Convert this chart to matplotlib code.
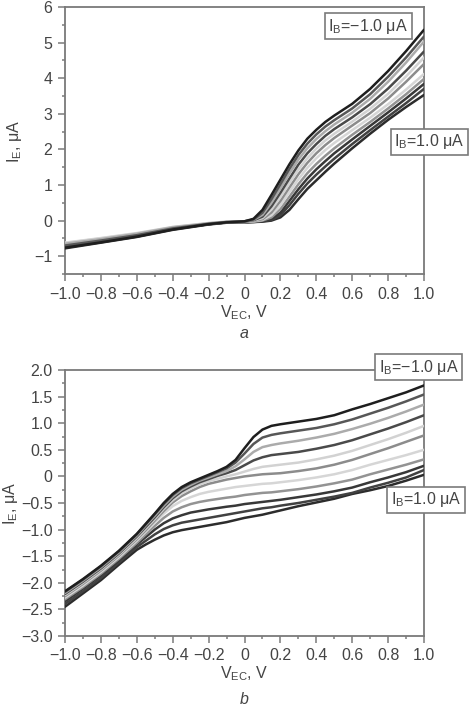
import numpy as np
import matplotlib
matplotlib.use("Agg")
import matplotlib.pyplot as plt
from matplotlib.ticker import MultipleLocator

plt.rcParams['font.family'] = ['Liberation Sans', 'DejaVu Sans']
plt.rcParams['axes.unicode_minus'] = True

# base current for each curve, top curve first
ib_values = [-1.0, -0.8, -0.6, -0.4, -0.2, 0.0, 0.2, 0.4, 0.6, 0.8, 1.0]
colors = ['#1e1e1e', '#575757', '#ababab', '#4a4a4a', '#d2d2d2', '#8c8c8c',
          '#d6d6d6', '#939393', '#383838', '#414141', '#2c2c2c']

# ---- panel a ----
xa = [-1.0, -0.8, -0.6, -0.4, -0.2, -0.1,
      0.0, 0.05, 0.1, 0.15, 0.2, 0.25, 0.3, 0.35, 0.4, 0.45, 0.5, 0.6, 0.7, 0.8, 0.9, 1.0]
ya = [
    [-0.76, -0.61, -0.45, -0.25, -0.10, -0.05,
     -0.02, 0.05, 0.30, 0.72, 1.15, 1.58, 1.97, 2.30, 2.55, 2.77, 2.95, 3.28, 3.70, 4.20, 4.76, 5.36],
    [-0.70, -0.56, -0.41, -0.22, -0.09, -0.04,
     -0.02, 0.03, 0.22, 0.60, 1.02, 1.45, 1.84, 2.16, 2.42, 2.64, 2.82, 3.15, 3.55, 4.04, 4.58, 5.17],
    [-0.65, -0.52, -0.37, -0.19, -0.08, -0.04,
     -0.02, 0.02, 0.16, 0.50, 0.90, 1.32, 1.71, 2.03, 2.29, 2.51, 2.70, 3.03, 3.42, 3.90, 4.44, 5.03],
    [-0.72, -0.58, -0.42, -0.23, -0.09, -0.05,
     -0.03, 0.01, 0.11, 0.40, 0.78, 1.18, 1.57, 1.89, 2.15, 2.38, 2.57, 2.90, 3.27, 3.71, 4.21, 4.75],
    [-0.63, -0.50, -0.36, -0.18, -0.07, -0.03,
     -0.03, 0.00, 0.07, 0.31, 0.66, 1.05, 1.43, 1.75, 2.02, 2.25, 2.44, 2.78, 3.14, 3.56, 4.05, 4.58],
    [-0.68, -0.54, -0.39, -0.21, -0.08, -0.04,
     -0.03, -0.01, 0.04, 0.23, 0.55, 0.93, 1.30, 1.62, 1.89, 2.12, 2.32, 2.67, 3.02, 3.43, 3.90, 4.40],
    [-0.62, -0.49, -0.35, -0.18, -0.07, -0.03,
     -0.04, -0.02, 0.02, 0.15, 0.43, 0.80, 1.16, 1.48, 1.75, 1.98, 2.18, 2.54, 2.89, 3.27, 3.68, 4.12],
    [-0.69, -0.55, -0.40, -0.21, -0.09, -0.05,
     -0.04, -0.03, 0.00, 0.09, 0.32, 0.67, 1.02, 1.33, 1.59, 1.82, 2.03, 2.41, 2.77, 3.15, 3.55, 3.98],
    [-0.73, -0.59, -0.43, -0.23, -0.10, -0.05,
     -0.04, -0.03, -0.01, 0.05, 0.22, 0.55, 0.88, 1.18, 1.44, 1.67, 1.89, 2.28, 2.66, 3.04, 3.43, 3.84],
    [-0.75, -0.60, -0.44, -0.24, -0.10, -0.05,
     -0.05, -0.04, -0.02, 0.02, 0.15, 0.43, 0.75, 1.04, 1.29, 1.52, 1.74, 2.15, 2.54, 2.92, 3.30, 3.70],
    [-0.78, -0.62, -0.46, -0.26, -0.11, -0.06,
     -0.05, -0.04, -0.03, 0.00, 0.09, 0.30, 0.60, 0.89, 1.13, 1.37, 1.60, 2.03, 2.44, 2.83, 3.19, 3.53],
]

# ---- panel b ----
xb = [-1.0, -0.9, -0.8, -0.7, -0.6, -0.55, -0.5, -0.45, -0.4, -0.35, -0.3, -0.25, -0.2, -0.15,
      -0.1, -0.05, 0.0, 0.05, 0.1, 0.15, 0.2, 0.3, 0.4, 0.5, 0.6, 0.7, 0.8, 0.9, 1.0]
yb = [
    [-2.16, -1.93, -1.68, -1.40, -1.08, -0.89, -0.70, -0.50, -0.33, -0.20, -0.11, -0.04, 0.03, 0.10,
     0.18, 0.31, 0.53, 0.74, 0.88, 0.95, 0.98, 1.03, 1.08, 1.15, 1.26, 1.36, 1.47, 1.58, 1.71],
    [-2.17, -1.94, -1.69, -1.41, -1.09, -0.90, -0.71, -0.52, -0.35, -0.22, -0.13, -0.06, 0.01, 0.08,
     0.15, 0.26, 0.43, 0.61, 0.73, 0.78, 0.81, 0.86, 0.91, 0.98, 1.07, 1.18, 1.29, 1.41, 1.54],
    [-2.19, -1.96, -1.71, -1.43, -1.11, -0.92, -0.74, -0.55, -0.38, -0.25, -0.16, -0.08, -0.02, 0.04,
     0.10, 0.19, 0.32, 0.46, 0.55, 0.59, 0.62, 0.67, 0.73, 0.80, 0.89, 0.99, 1.10, 1.22, 1.35],
    [-2.21, -1.98, -1.73, -1.45, -1.13, -0.95, -0.77, -0.58, -0.41, -0.28, -0.19, -0.11, -0.05, 0.01,
     0.06, 0.12, 0.21, 0.30, 0.36, 0.40, 0.42, 0.46, 0.52, 0.59, 0.68, 0.79, 0.90, 1.02, 1.15],
    [-2.23, -2.00, -1.75, -1.47, -1.16, -0.98, -0.80, -0.61, -0.45, -0.32, -0.23, -0.15, -0.09, -0.045,
     0.00, 0.04, 0.09, 0.14, 0.18, 0.20, 0.22, 0.26, 0.32, 0.39, 0.48, 0.59, 0.70, 0.82, 0.95],
    [-2.25, -2.02, -1.77, -1.49, -1.18, -1.01, -0.83, -0.65, -0.49, -0.37, -0.28, -0.20, -0.14, -0.10,
     -0.06, -0.03, 0.00, 0.02, 0.04, 0.05, 0.06, 0.10, 0.15, 0.22, 0.31, 0.42, 0.53, 0.65, 0.77],
    [-2.28, -2.05, -1.80, -1.52, -1.21, -1.04, -0.87, -0.70, -0.56, -0.46, -0.39, -0.33, -0.29, -0.26,
     -0.23, -0.20, -0.18, -0.16, -0.14, -0.13, -0.11, -0.07, -0.02, 0.04, 0.12, 0.22, 0.31, 0.40, 0.50],
    [-2.31, -2.08, -1.83, -1.55, -1.25, -1.09, -0.93, -0.78, -0.66, -0.58, -0.52, -0.48, -0.45, -0.425,
     -0.40, -0.38, -0.35, -0.33, -0.31, -0.30, -0.28, -0.24, -0.19, -0.13, -0.06, 0.04, 0.13, 0.22, 0.32],
    [-2.35, -2.11, -1.86, -1.58, -1.28, -1.14, -1.00, -0.88, -0.79, -0.73, -0.68, -0.65, -0.62, -0.595,
     -0.57, -0.55, -0.52, -0.50, -0.48, -0.46, -0.44, -0.39, -0.34, -0.28, -0.21, -0.11, -0.02, 0.08, 0.20],
    [-2.40, -2.16, -1.91, -1.62, -1.33, -1.21, -1.09, -0.99, -0.92, -0.87, -0.84, -0.81, -0.78, -0.75,
     -0.72, -0.69, -0.66, -0.63, -0.60, -0.58, -0.55, -0.50, -0.44, -0.38, -0.31, -0.21, -0.12, -0.02, 0.12],
    [-2.45, -2.20, -1.95, -1.66, -1.38, -1.28, -1.19, -1.11, -1.05, -1.01, -0.98, -0.95, -0.92, -0.89,
     -0.86, -0.82, -0.78, -0.75, -0.72, -0.68, -0.64, -0.56, -0.49, -0.42, -0.33, -0.26, -0.18, -0.08, 0.03],
]

xticks = [-1.0, -0.8, -0.6, -0.4, -0.2, 0.0, 0.2, 0.4, 0.6, 0.8, 1.0]
xticklabels = ['\u22121.0', '\u22120.8', '\u22120.6', '\u22120.4', '\u22120.2', '0',
               '0.2', '0.4', '0.6', '0.8', '1.0']
yticks_a = [-1, 0, 1, 2, 3, 4, 5, 6]
yticklabels_a = ['\u22121', '0', '1', '2', '3', '4', '5', '6']
yticks_b = [-3.0, -2.5, -2.0, -1.5, -1.0, -0.5, 0.0, 0.5, 1.0, 1.5, 2.0]
yticklabels_b = ['\u22123.0', '\u22122.5', '\u22122.0', '\u22121.5', '\u22121.0', '\u22120.5',
                 '0', '0.5', '1.0', '1.5', '2.0']

W, H = 469, 707
fig = plt.figure(figsize=(W / 100, H / 100), dpi=100)

spine_col = '#7a7a7a'
text_col = '#444444'
fs = 11.5


def style_axes(ax, yt, ytl, ymin, ymax, yminor):
    ax.set_xlim(-1.0, 1.0)
    ax.set_ylim(ymin, ymax)
    ax.set_xticks(xticks)
    ax.set_xticklabels(xticklabels)
    ax.set_yticks(yt)
    ax.set_yticklabels(ytl)
    ax.xaxis.set_minor_locator(MultipleLocator(0.1))
    ax.yaxis.set_minor_locator(MultipleLocator(yminor))
    for s in ax.spines.values():
        s.set_color(spine_col)
        s.set_linewidth(1.3)
    ax.tick_params(which='major', direction='out', length=5, width=1.1,
                   color=spine_col, labelsize=fs, labelcolor=text_col, pad=4)
    ax.tick_params(which='minor', direction='out', length=2.5, width=1.1, color=spine_col)
    ax.tick_params(top=False, right=False, which='both')


def box(ax, x, y, s):
    ax.text(x, y, s, ha='center', va='center', fontsize=fs, color=text_col,
            clip_on=False, zorder=10,
            bbox=dict(boxstyle='square,pad=0.22', fc='white', ec=spine_col, lw=1.2))


ylab = 'I$_\\mathregular{E}$, \u03bcA'
xlab = 'V$_\\mathregular{EC}$, V'

# panel a
ax1 = fig.add_axes([65 / W, 1 - 274 / H, 359 / W, 267 / H])
for i in range(len(ib_values)):
    ax1.plot(xa, ya[i], color=colors[i], lw=1.8, solid_joinstyle='round',
             solid_capstyle='round', zorder=20 - i)
style_axes(ax1, yticks_a, yticklabels_a, -1.5, 6, 0.5)
box(ax1, 0.69, 5.46, 'I$_\\mathregular{B}$=\u22121.0 \u03bcA')
box(ax1, 1.03, 2.22, 'I$_\\mathregular{B}$=1.0 \u03bcA')
fig.text(15 / W, 1 - 141 / H, ylab, rotation=90, ha='center', va='center',
         fontsize=fs, color=text_col)
fig.text(244.5 / W, 1 - 313 / H, xlab, ha='center', va='center',
         fontsize=fs, color=text_col)
fig.text(244.5 / W, 1 - 334 / H, 'a', ha='center', va='center', fontsize=fs,
         style='italic', color=text_col)

# panel b
ax2 = fig.add_axes([65 / W, 1 - 636 / H, 359 / W, 266 / H])
for i in range(len(ib_values)):
    ax2.plot(xb, yb[i], color=colors[i], lw=1.8, solid_joinstyle='round',
             solid_capstyle='round', zorder=20 - i)
style_axes(ax2, yticks_b, yticklabels_b, -3.0, 2.0, 0.25)
box(ax2, 0.97, 2.05, 'I$_\\mathregular{B}$=\u22121.0 \u03bcA')
box(ax2, 1.01, -0.44, 'I$_\\mathregular{B}$=1.0 \u03bcA')
fig.text(10 / W, 1 - 503 / H, ylab, rotation=90, ha='center', va='center',
         fontsize=fs, color=text_col)
fig.text(244.5 / W, 1 - 674 / H, xlab, ha='center', va='center',
         fontsize=fs, color=text_col)
fig.text(244.5 / W, 1 - 700 / H, 'b', ha='center', va='center', fontsize=fs,
         style='italic', color=text_col)

fig.savefig('out.png', dpi=100)
